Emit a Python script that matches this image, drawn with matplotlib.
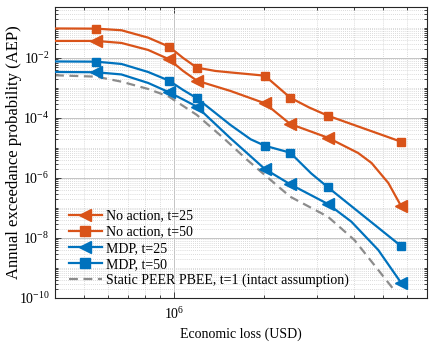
import matplotlib
matplotlib.use("Agg")
import matplotlib.pyplot as plt
from matplotlib.ticker import LogLocator, FixedLocator, LogFormatterSciNotation, NullFormatter
from matplotlib.lines import Line2D

plt.rcParams['font.family'] = ['Liberation Serif', 'DejaVu Serif']
plt.rcParams['mathtext.fontset'] = 'custom'
plt.rcParams['mathtext.rm'] = 'Liberation Serif'
plt.rcParams['mathtext.it'] = 'Liberation Serif:italic'
plt.rcParams['font.size'] = 10

# ---- data ----
marker_x = [5.5e5, 9.62e5, 1.192e6, 2.01e6, 2.444e6, 3.267e6, 5.735e6]

na50_x = [4.0e5, 5.5e5, 6.67e5, 8.19e5, 9.62e5, 1.072e6, 1.192e6, 1.374e6, 1.544e6,
          2.01e6, 2.444e6, 2.827e6, 3.267e6, 5.735e6]
na50_y = [0.0962, 0.0948, 0.0838, 0.0475, 0.0238, 0.0100, 0.00475, 0.00369, 0.00329,
          0.00257, 4.75e-4, 2.24e-4, 1.19e-4, 1.62e-5]

na25_x = [4.0e5, 5.5e5, 6.67e5, 8.19e5, 9.62e5, 1.072e6, 1.192e6, 1.544e6, 2.01e6,
          2.444e6, 3.267e6, 4.123e6, 4.571e6, 5.202e6, 5.735e6]
na25_y = [0.0369, 0.0369, 0.0316, 0.0185, 0.00905, 0.00369, 0.00175, 7.94e-4, 3.09e-4,
          6.31e-5, 2.2e-5, 6.81e-6, 3.16e-6, 6.81e-7, 1.17e-7]

mdp50_x = [4.0e5, 5.5e5, 6.67e5, 8.19e5, 9.62e5, 1.072e6, 1.192e6, 1.544e6, 1.803e6,
           2.01e6, 2.444e6, 2.871e6, 3.267e6, 5.735e6]
mdp50_y = [0.00764, 0.00752, 0.00631, 0.00341, 0.00175, 8.58e-4, 4.54e-4, 5.84e-5, 1.95e-5,
           1.19e-5, 6.97e-6, 1.43e-6, 4.9e-7, 5.41e-9]

mdp25_x = [4.0e5, 5.5e5, 6.67e5, 8.19e5, 9.62e5, 1.072e6, 1.192e6, 1.544e6, 2.01e6,
           2.444e6, 3.267e6, 3.914e6, 4.814e6, 5.735e6]
mdp25_y = [0.00341, 0.00334, 0.00282, 0.00147, 7.19e-4, 4.14e-4, 2.38e-4, 2.1e-5, 2.0e-6,
           6.17e-7, 1.36e-7, 3.5e-8, 3.98e-9, 3.24e-10]

static_x = [4.0e5, 5.5e5, 6.67e5, 8.19e5, 9.62e5, 1.192e6, 1.466e6, 1.757e6, 2.01e6,
            2.444e6, 3.267e6, 4.006e6, 4.814e6, 5.505e6]
static_y = [0.00265, 0.00238, 0.00162, 9.26e-4, 5.13e-4, 1.26e-4, 2.1e-5, 3.98e-6, 1.26e-6,
            2.38e-7, 5.13e-8, 8.58e-9, 8.58e-10, 1.58e-10]

labels = ["No action, t=25", "No action, t=50", "MDP, t=25", "MDP, t=50",
          "Static PEER PBEE, t=1 (intact assumption)"]

x_minor_ticks = [4e5, 5e5, 6e5, 7e5, 8e5, 9e5, 2e6, 3e6, 4e6, 5e6, 6e6, 7e6]

ORANGE = '#D95319'
BLUE = '#0072BD'
GRAY = '#8c8c8c'

fig = plt.figure(figsize=(4.34, 3.63), dpi=100)
ax = fig.add_axes([0.1267, 0.179, 0.857, 0.8018])


def mk_idx(xs):
    return [xs.index(m) for m in marker_x if m in xs]


series = [
    (na25_x, na25_y, ORANGE, '<', 8.0),
    (na50_x, na50_y, ORANGE, 's', 6.0),
    (mdp25_x, mdp25_y, BLUE, '<', 8.0),
    (mdp50_x, mdp50_y, BLUE, 's', 6.0),
]
handles = []
for (xs, ys, c, m, ms), lab in zip(series, labels[:4]):
    ax.plot(xs, ys, color=c, lw=1.6, marker=m, ms=ms, markevery=mk_idx(xs),
            markerfacecolor=c, markeredgecolor=c, zorder=3)
    handles.append(Line2D([], [], color=c, lw=1.6, marker=m, ms=ms + 1,
                          markerfacecolor=c, markeredgecolor=c))

ax.plot(static_x, static_y, color=GRAY, lw=1.6, ls=(0, (4, 2.5)), zorder=2)
handles.append(Line2D([], [], color=GRAY, lw=1.6, ls=(0, (4, 2.5))))

ax.set_xscale('log')
ax.set_yscale('log')
ax.set_xlim(4e5, 7e6)
ax.set_ylim(1e-10, 0.5)

ax.xaxis.set_major_locator(FixedLocator([1e6]))
ax.xaxis.set_major_formatter(LogFormatterSciNotation())
ax.xaxis.set_minor_locator(FixedLocator(x_minor_ticks))
ax.xaxis.set_minor_formatter(NullFormatter())

ax.yaxis.set_major_locator(FixedLocator([1e-10, 1e-8, 1e-6, 1e-4, 1e-2]))
ax.yaxis.set_major_formatter(LogFormatterSciNotation())
ax.yaxis.set_minor_locator(LogLocator(base=10, subs=range(1, 10), numticks=50))
ax.yaxis.set_minor_formatter(NullFormatter())

ax.tick_params(which='both', direction='in', top=True, right=True, labelsize=10,
               color='#262626', width=0.6)
ax.tick_params(which='major', length=4, pad=4)
ax.tick_params(axis='x', which='major', pad=6)
ax.tick_params(which='minor', length=2)

ax.grid(True, which='major', color='#c4c4c4', lw=0.7, ls='-', zorder=0)
ax.grid(True, which='minor', color='#cfcfcf', lw=0.6, ls=(0, (1, 1.5)), zorder=0)
ax.set_axisbelow(True)
for s in ax.spines.values():
    s.set_color('#262626')
    s.set_linewidth(0.8)

ax.set_xlabel('Economic loss (USD)', fontsize=10, labelpad=4)
ax.set_ylabel('Annual exceedance probability (AEP)', fontsize=12, va='center')
ax.yaxis.set_label_coords(-0.11, 0.5)

leg = ax.legend(handles, labels, loc='lower left', bbox_to_anchor=(0.033, 0.032),
                frameon=False, fontsize=10, handlelength=2.4, handletextpad=0.3,
                labelspacing=0.22, borderpad=0.1, borderaxespad=0)

fig.savefig('out.png', dpi=100)
